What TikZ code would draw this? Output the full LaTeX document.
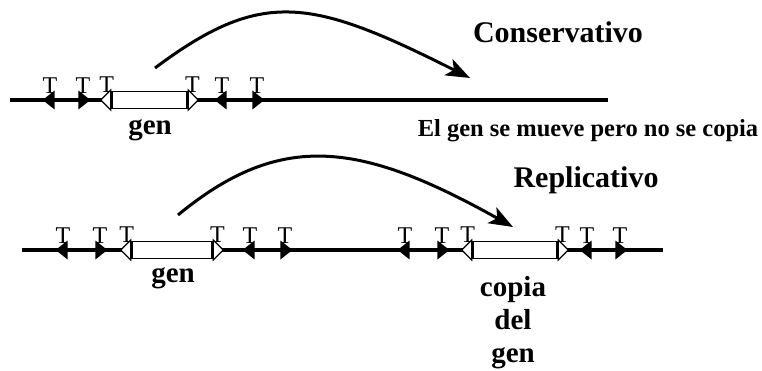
\documentclass[tikz,border=0pt]{standalone}
\usepackage{fontspec}
\setmainfont{Liberation Serif}
\usetikzlibrary{arrows.meta,shapes.geometric,positioning}
\tikzstyle{dna} = [line width=3.5pt]
\tikzstyle{labelT} = [font=\fontsize{24}{24}\selectfont, inner sep=0pt]
\tikzstyle{repL} = [isosceles triangle, isosceles triangle stretches, shape border rotate=180, minimum width=19pt, minimum height=12pt, inner sep=0pt, fill=black, label distance=0pt, label={[labelT]above:T}]
\tikzstyle{repR} = [repL, shape border rotate=0]
\tikzstyle{gene} = [rectangle, draw=black, line width=1.2pt, fill=white, minimum height=17pt, inner sep=0pt]
\tikzstyle{tipL} = [isosceles triangle, isosceles triangle stretches, shape border rotate=180, minimum width=20pt, minimum height=10pt, inner sep=0pt, draw=black, line width=1.2pt, fill=white, label distance=0pt, label={[labelT]above:T}]
\tikzstyle{tipR} = [tipL, shape border rotate=0]
\tikzstyle{titletext} = [font=\fontsize{30}{30}\selectfont\bfseries, inner sep=0pt, anchor=base]
\tikzstyle{genename} = [font=\fontsize{29}{33}\selectfont\bfseries, inner sep=0pt, align=center]
\tikzstyle{notetext} = [font=\fontsize{24.5}{24.5}\selectfont\bfseries, inner sep=0pt, anchor=base]
\tikzstyle{jump} = [line width=3pt, -{Stealth[length=24pt,width=18pt,inset=6pt]}]

\begin{document}
\begin{tikzpicture}[x=1pt,y=-1pt]
\useasboundingbox (0,0) rectangle (762,371);

% conservativo
\coordinate (c0) at (10,100);
\coordinate (c1) at (608,100);
\draw [dna] (c0) -- (c1);
\node (cm1) [repL] at (50,100) {};
\node (cm2) [repR] at (83,100) {};
\node (cgen) [gene, minimum width=75pt] at (149.5,100) {};
\node (cgenL) [tipL, anchor=lower side] at (cgen.west) {};
\node (cgenR) [tipR, anchor=lower side] at (cgen.east) {};
\node (cm3) [repL] at (222,100) {};
\node (cm4) [repR] at (257,100) {};
\node (cname) [genename, anchor=base] at (150,135) {gen};
\node (ctitle) [titletext] at (558,43) {Conservativo};
\node (cnote) [notetext] at (588,137) {El gen se mueve pero no se copia};

\coordinate (ca0) at (155,68);
\coordinate (ca1) at (470,78);
\draw [jump] (ca0) .. controls (262,-12) and (311,-2) .. (ca1);

% replicativo
\coordinate (r0) at (22,250);
\coordinate (r1) at (663,250);
\draw [dna] (r0) -- (r1);
\node (rm1) [repL] at (63,250) {};
\node (rm2) [repR] at (100,250) {};
\node (rgen) [gene, minimum width=80pt] at (172,250) {};
\node (rgenL) [tipL, anchor=lower side] at (rgen.west) {};
\node (rgenR) [tipR, anchor=lower side] at (rgen.east) {};
\node (rm3) [repL] at (250,250) {};
\node (rm4) [repR] at (285,250) {};
\node (rm5) [repL] at (405,250) {};
\node (rm6) [repR] at (442,250) {};
\node (kgen) [gene, minimum width=84pt] at (515,250) {};
\node (kgenL) [tipL, anchor=lower side] at (kgen.west) {};
\node (kgenR) [tipR, anchor=lower side] at (kgen.east) {};
\node (rm7) [repL] at (587,250) {};
\node (rm8) [repR] at (620,250) {};
\node (rname) [genename, anchor=base] at (173,282) {gen};
\node (kname) [genename, anchor=north] at (513,276) {copia\\del\\gen};
\node (rtitle) [titletext] at (586,188) {Replicativo};

\coordinate (ra0) at (178,215);
\coordinate (ra1) at (513,227);
\draw [jump] (ra0) .. controls (281,130) and (361,142) .. (ra1);
\end{tikzpicture}
\end{document}
